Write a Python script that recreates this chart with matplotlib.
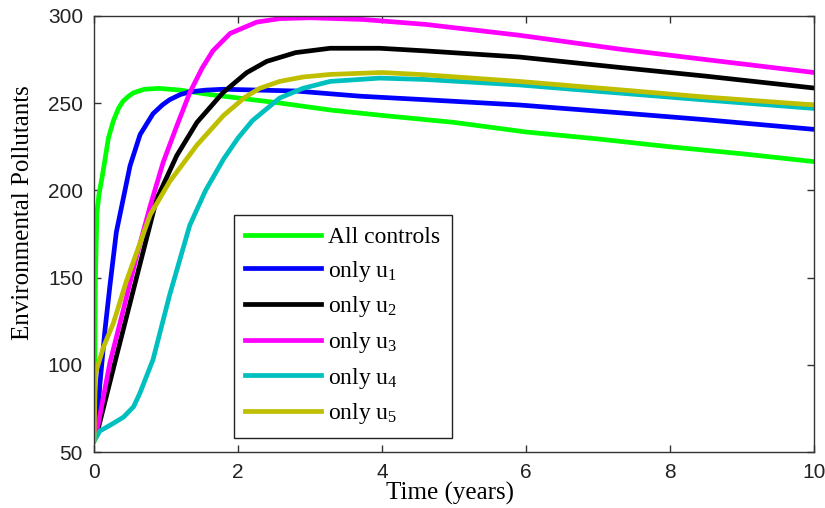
import matplotlib
matplotlib.use("Agg")
import matplotlib.pyplot as plt

plt.rcParams['mathtext.fontset'] = 'custom'
plt.rcParams['mathtext.rm'] = 'Liberation Serif'
plt.rcParams['mathtext.it'] = 'Liberation Serif:italic'

# environmental pollutants over time under each control strategy
t_all = [0, 0.01, 0.02, 0.04, 0.07, 0.11, 0.15, 0.2, 0.27, 0.34, 0.4, 0.48, 0.55,
         0.7, 0.9, 1.2, 1.6, 2.0, 2.6, 3.3, 4.0, 5.0, 6.0, 7.0, 8.0, 9.0, 10.0]
p_all = [57, 100, 150, 187, 198, 207, 217, 230, 240, 247, 251, 254, 256,
         258, 258.5, 257.5, 255, 253, 250, 246, 243, 239, 233.5, 229.5, 225, 221, 216.5]

t_u1 = [0, 0.04, 0.08, 0.15, 0.22, 0.31, 0.41, 0.5, 0.64, 0.82, 0.95, 1.05, 1.2,
        1.33, 1.55, 1.8, 2.3, 2.8, 3.7, 4.6, 5.9, 7.3, 8.5, 10]
p_u1 = [57, 63, 88, 119, 145, 176, 196, 214, 232, 244, 249, 252, 255,
        256.5, 257.5, 258, 257.5, 257, 254, 252, 249, 244.5, 240.5, 235]

t_u2 = [0, 0.05, 0.3, 0.64, 0.87, 1.15, 1.43, 1.79, 2.12, 2.4, 2.8, 3.28, 3.97,
        4.6, 5.9, 7.3, 8.5, 10]
p_u2 = [57, 62, 103, 158, 195, 220, 239, 256, 267.5, 274, 279, 281.5, 281.5,
        280, 276.5, 270.5, 265.5, 258.7]

t_u3 = [0, 0.04, 0.22, 0.41, 0.59, 0.78, 0.96, 1.15, 1.33, 1.5, 1.65, 1.89,
        2.26, 2.58, 3.0, 3.74, 4.6, 5.9, 7.3, 8.5, 10]
p_u3 = [57, 62, 101, 132, 162, 191, 216, 237, 256, 270, 280, 290,
        296.5, 298.5, 299, 298, 295.2, 289, 281, 275, 267.6]

t_u4 = [0, 0.08, 0.25, 0.41, 0.55, 0.64, 0.82, 1.05, 1.33, 1.55, 1.8, 2.0,
        2.2, 2.58, 2.9, 3.28, 3.97, 4.6, 5.9, 7.3, 8.5, 10]
p_u4 = [56, 62, 66, 70, 76, 84, 103, 140, 180, 200, 218, 230,
        240, 253, 258.5, 262.5, 264.4, 263.6, 260.5, 255.8, 251.8, 247]

t_u5 = [0, 0.02, 0.13, 0.27, 0.45, 0.78, 1.05, 1.43, 1.8, 2.1, 2.3, 2.58, 2.9,
        3.28, 4.0, 4.6, 5.9, 7.3, 8.5, 10]
p_u5 = [57, 95, 110, 124, 148, 186, 205, 226, 243, 253.5, 258.5, 262.5, 265,
        266.5, 267.6, 266.3, 262.5, 257.7, 253.5, 249]

series = [
    (t_all, p_all, '#00ff00', 'All controls'),
    (t_u1, p_u1, '#0000ff', r'only $\mathrm{u_1}$'),
    (t_u2, p_u2, '#000000', r'only $\mathrm{u_2}$'),
    (t_u3, p_u3, '#ff00ff', r'only $\mathrm{u_3}$'),
    (t_u4, p_u4, '#00bfbf', r'only $\mathrm{u_4}$'),
    (t_u5, p_u5, '#bfbf00', r'only $\mathrm{u_5}$'),
]

fig = plt.figure(figsize=(8.25, 5.08), dpi=100)
ax = fig.add_axes([94 / 825, 1 - 452 / 508, 720 / 825, 436 / 508])

for t, p, c, lab in series:
    ax.plot(t, p, color=c, lw=3.4, label=lab, solid_joinstyle='round')

ax.set_xlim(0, 10)
ax.set_ylim(50, 300)
ax.set_xticks(range(0, 11, 2))
ax.set_yticks(range(50, 301, 50))
ax.tick_params(direction='in', top=True, right=True, length=5, width=1,
               color='#333333', labelcolor='#222222', labelsize=15, pad=8)
for lbl in ax.get_xticklabels() + ax.get_yticklabels():
    lbl.set_fontfamily('Liberation Sans')
for s in ax.spines.values():
    s.set_color('#333333')
    s.set_linewidth(1)

ax.set_xlabel('Time (years)', fontfamily='Liberation Serif', fontsize=18)
ax.set_ylabel('Environmental Pollutants', fontfamily='Liberation Serif', fontsize=18)
ax.xaxis.set_label_coords(0.494, -0.068)
ax.yaxis.set_label_coords(-0.084, 0.55)

leg = ax.legend(loc='lower left', bbox_to_anchor=(0.194, 0.032), borderaxespad=0,
                prop={'family': 'Liberation Serif', 'size': 17},
                handlelength=3.2, handletextpad=0.3, labelspacing=0.45,
                borderpad=0.5, fancybox=False, framealpha=1, edgecolor='#222222')
leg.get_frame().set_linewidth(1)

fig.savefig('out.png', dpi=100)
